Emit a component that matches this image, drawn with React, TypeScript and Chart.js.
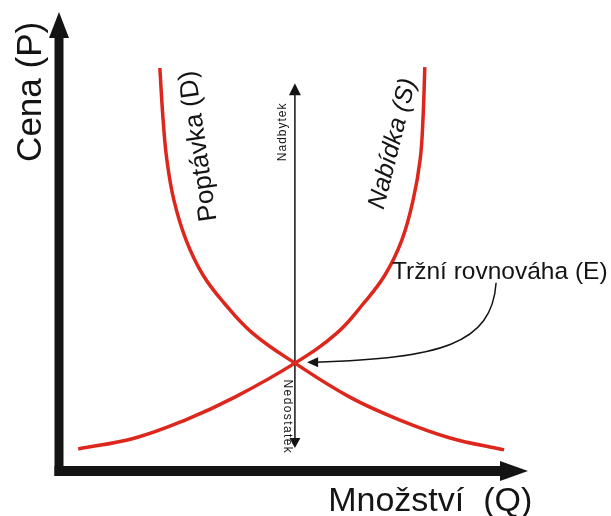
import { useEffect, useRef } from "react";
import { Chart, registerables } from "chart.js";

Chart.register(...registerables);

// ---- data (price P vs quantity Q, arbitrary units 0..10) ----
const demandQ = [2.15, 2.22, 2.3, 2.45, 2.71, 3.07, 3.52, 4.12, 5.03, 6.2, 7.27, 8.34, 9.49];
const demandP = [8.78, 7.65, 6.78, 5.9, 5.03, 4.27, 3.66, 3.01, 2.35, 1.61, 1.11, 0.72, 0.46];
const supplyQ = [0.41, 1.62, 2.69, 3.75, 5.03, 5.93, 6.5, 6.95, 7.31, 7.55, 7.7, 7.76, 7.8];
const supplyP = [0.48, 0.72, 1.11, 1.61, 2.35, 3.01, 3.66, 4.27, 5.03, 5.9, 6.78, 7.65, 8.8];
const axisMin = 0;
const axisMax = 10;
const equilibriumQ = 5.03;
const surplusTopP = 8.45;
const shortageBottomP = 0.5;

// ---- texts ----
const priceLabel = "Cena (P)";
const quantityLabel = "Množství  (Q)";
const demandLabel = "Poptávka (D)";
const supplyLabel = "Nabídka (S)";
const surplusLabel = "Nadbytek";
const shortageLabel = "Nedostatek";
const equilibriumLabel = "Tržní rovnováha (E)";

// ---- annotation anchors (data units) ----
const priceLabelPos = { q: -0.6, p: 8.26 };
const quantityLabelPos = { q: 5.74, p: -0.87 };
const demandLabelPos = { q: 2.98, p: 7.08 };
const supplyLabelPos = { q: 7.12, p: 7.13 };
const surplusLabelPos = { q: 4.78, p: 7.39 };
const shortageLabelPos = { q: 4.86, p: 1.18 };
const equilibriumLabelPos = { q: 7.1, p: 4.18 };
const pointerPath = [
  { q: 9.32, p: 4.1 },
  { q: 9.23, p: 2.75 },
  { q: 8.12, p: 2.46 },
  { q: 5.46, p: 2.37 },
];
const pointerTip = { q: 5.29, p: 2.37 };

const FONT = '"Liberation Sans", Arial, sans-serif';
const RED = "rgb(221, 38, 28)";
const INK = "#141414";

const annotations = {
  id: "marketAnnotations",
  beforeDatasetsDraw(chart: any) {
    const { ctx, scales } = chart;
    const px = (q: number) => scales.x.getPixelForValue(q);
    const py = (p: number) => scales.y.getPixelForValue(p);
    const cx = px(equilibriumQ);
    const top = py(surplusTopP);
    const bot = py(shortageBottomP);
    ctx.save();
    ctx.strokeStyle = INK;
    ctx.fillStyle = INK;
    ctx.lineWidth = 1.5;
    ctx.beginPath();
    ctx.moveTo(cx, top + 8);
    ctx.lineTo(cx, bot - 6);
    ctx.stroke();
    ctx.beginPath();
    ctx.moveTo(cx, top);
    ctx.lineTo(cx - 6, top + 12);
    ctx.lineTo(cx + 6, top + 12);
    ctx.closePath();
    ctx.fill();
    ctx.beginPath();
    ctx.moveTo(cx, bot);
    ctx.lineTo(cx - 5.5, bot - 10);
    ctx.lineTo(cx + 5.5, bot - 10);
    ctx.closePath();
    ctx.fill();
    ctx.restore();
  },
  afterDraw(chart: any) {
    const { ctx, scales } = chart;
    const px = (q: number) => scales.x.getPixelForValue(q);
    const py = (p: number) => scales.y.getPixelForValue(p);
    const ox = px(axisMin);
    const oy = py(axisMin);
    const tipY = py(axisMax);
    const tipX = px(axisMax);

    ctx.save();
    ctx.fillStyle = INK;
    // y axis
    ctx.fillRect(ox - 4.5, tipY + 24, 9, oy + 5 - (tipY + 24));
    ctx.beginPath();
    ctx.moveTo(ox, tipY);
    ctx.lineTo(ox - 10, tipY + 26);
    ctx.lineTo(ox + 10, tipY + 26);
    ctx.closePath();
    ctx.fill();
    // x axis
    ctx.fillRect(ox - 4.5, oy - 5, tipX - 27 - (ox - 4.5), 10);
    ctx.beginPath();
    ctx.moveTo(tipX, oy);
    ctx.lineTo(tipX - 28, oy - 10);
    ctx.lineTo(tipX - 28, oy + 10);
    ctx.closePath();
    ctx.fill();

    const rotText = (
      text: string,
      pos: { q: number; p: number },
      angleDeg: number,
      font: string,
      spacing = "0px"
    ) => {
      ctx.save();
      ctx.translate(px(pos.q), py(pos.p));
      ctx.rotate((angleDeg * Math.PI) / 180);
      ctx.font = font;
      (ctx as any).letterSpacing = spacing;
      ctx.textAlign = "center";
      ctx.textBaseline = "middle";
      ctx.fillStyle = INK;
      ctx.fillText(text, 0, 0);
      ctx.restore();
    };

    rotText(priceLabel, priceLabelPos, -90, `35px ${FONT}`);
    rotText(demandLabel, demandLabelPos, -98, `26px ${FONT}`);
    rotText(supplyLabel, supplyLabelPos, -76, `italic 25px ${FONT}`);
    rotText(surplusLabel, surplusLabelPos, -90, `12px ${FONT}`, "1px");
    rotText(shortageLabel, shortageLabelPos, 90, `12px ${FONT}`, "1.4px");

    ctx.fillStyle = INK;
    ctx.textAlign = "left";
    ctx.textBaseline = "alphabetic";
    ctx.font = `34px ${FONT}`;
    ctx.fillText(quantityLabel, px(quantityLabelPos.q), py(quantityLabelPos.p));
    ctx.font = `24.5px ${FONT}`;
    ctx.fillText(equilibriumLabel, px(equilibriumLabelPos.q), py(equilibriumLabelPos.p));

    // curved pointer
    const [a, b, c, d] = pointerPath;
    ctx.strokeStyle = INK;
    ctx.lineWidth = 1.5;
    ctx.beginPath();
    ctx.moveTo(px(a.q), py(a.p));
    ctx.bezierCurveTo(px(b.q), py(b.p), px(c.q), py(c.p), px(d.q), py(d.p));
    ctx.stroke();
    const tx = px(pointerTip.q);
    const ty = py(pointerTip.p);
    ctx.beginPath();
    ctx.moveTo(tx, ty);
    ctx.lineTo(tx + 11, ty - 5);
    ctx.lineTo(tx + 11, ty + 5);
    ctx.closePath();
    ctx.fill();
    ctx.restore();
  },
};

export default function App() {
  const ref = useRef<HTMLCanvasElement | null>(null);
  useEffect(() => {
    if (!ref.current) return;
    const toPts = (qs: number[], ps: number[]) => qs.map((q, i) => ({ x: q, y: ps[i] }));
    const chart = new Chart(ref.current, {
      type: "line",
      data: {
        datasets: [
          {
            label: demandLabel,
            data: toPts(demandQ, demandP),
            borderColor: RED,
            borderWidth: 3.5,
            pointRadius: 0,
            tension: 0.4,
            fill: false,
          },
          {
            label: supplyLabel,
            data: toPts(supplyQ, supplyP),
            borderColor: RED,
            borderWidth: 3.5,
            pointRadius: 0,
            tension: 0.4,
            fill: false,
          },
        ],
      },
      options: {
        animation: false,
        responsive: false,
        maintainAspectRatio: false,
        events: [],
        layout: { padding: { left: 59, right: 83, top: 12, bottom: 45 } },
        plugins: { legend: { display: false }, tooltip: { enabled: false } },
        scales: {
          x: { type: "linear", min: axisMin, max: axisMax, display: false },
          y: { type: "linear", min: axisMin, max: axisMax, display: false },
        },
      },
      plugins: [annotations],
    });
    return () => chart.destroy();
  }, []);
  return (
    <div style={{ position: "absolute", left: 0, top: 0, width: 611, height: 516, background: "#fff" }}>
      <canvas ref={ref} width={611} height={516} style={{ width: 611, height: 516 }} />
    </div>
  );
}
